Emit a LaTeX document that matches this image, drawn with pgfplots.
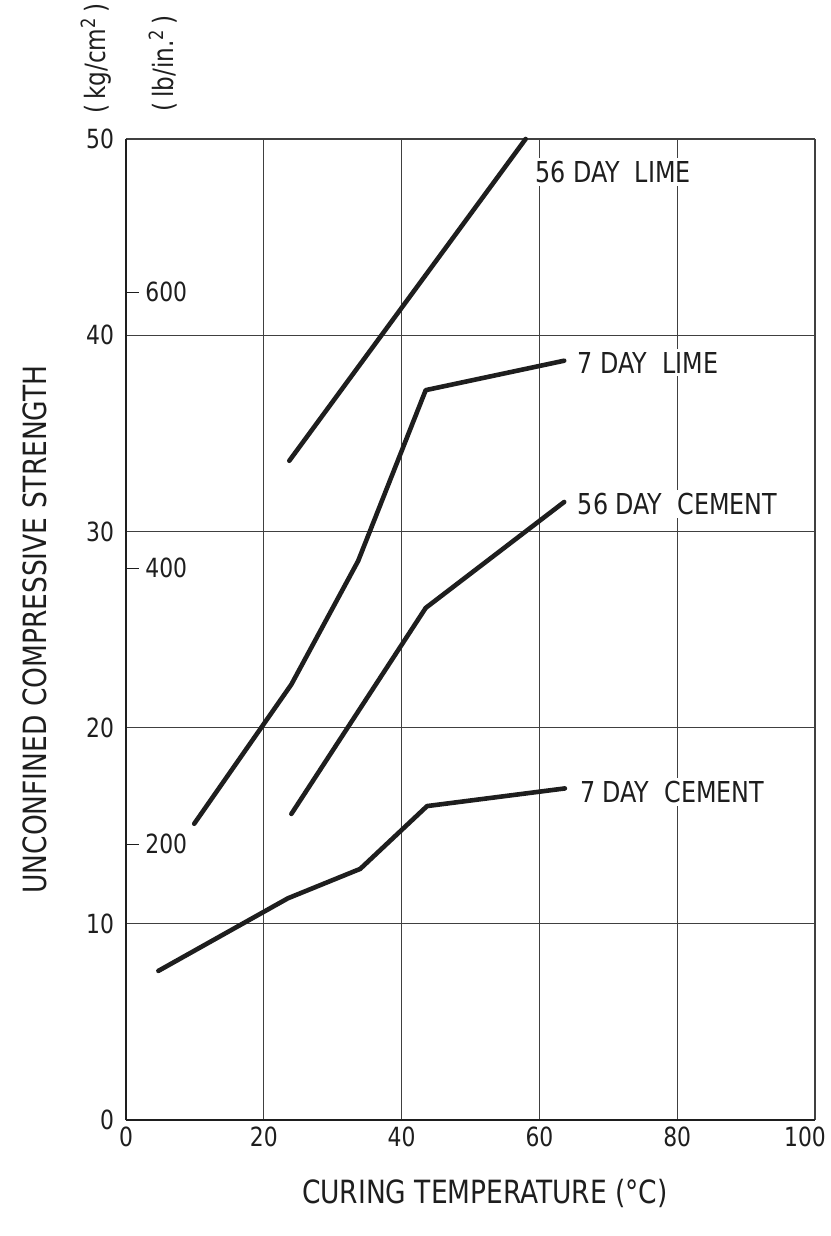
\documentclass[border=0pt]{standalone}
\usepackage{fontspec}
\setmainfont{DejaVu Sans Condensed}[FakeStretch=0.92]
\usepackage{pgfplots}
\pgfplotsset{compat=1.18}
\definecolor{ink}{HTML}{1E1E1E}

\begin{document}
\begin{tikzpicture}
\begin{axis}[
  at={(0,0)}, anchor=south west,
  scale only axis, width=344.5pt, height=490.5pt,
  xmin=0, xmax=100, ymin=0, ymax=50,
  xtick={0,20,...,100}, ytick={0,10,...,50},
  xticklabels={0,20,40,60,80,{\hspace*{-10pt}100}},
  grid=major, major grid style={line width=0.55pt, draw=ink!85},
  axis x line*=bottom, axis y line*=left,
  axis line style={-, line width=1.4pt, draw=ink},
  major tick length=0pt,
  tick label style={font=\fontsize{13.2}{15}\selectfont, text=ink},
  /pgf/number format/assume math mode=true,
  yticklabel style={xshift=-2.5pt},
  % lb/in.^2 scale: 1 kg/cm^2 = 14.223 lb/in.^2
  extra y ticks={14.062,28.123,42.185},
  extra y tick labels={200,400,600},
  extra y tick style={grid=none, major tick length=6.5pt, tick align=inside,
    tick style={line width=0.6pt, draw=ink},
    yticklabel style={anchor=west, xshift=12pt, inner sep=0pt}},
  xlabel={CURING TEMPERATURE (°C)},
  xlabel style={at={([yshift=-36.5pt]axis description cs:0.521,0)}, anchor=center,
    font=\fontsize{16}{18}\selectfont, text=ink},
  ylabel={UNCONFINED COMPRESSIVE STRENGTH},
  ylabel style={at={([xshift=-45.5pt]axis description cs:0,0.5)}, anchor=center,
    font=\fontsize{16}{18}\selectfont, text=ink},
  clip=false,
  curve/.style={line width=2.3pt, draw=ink, line cap=round, line join=round, mark=none},
]
% 7 day cement
\addplot[curve] coordinates {(4.7,7.6) (23.5,11.3) (34,12.8) (43.7,16.0) (63.7,16.9)};
% 56 day cement
\addplot[curve] coordinates {(24,15.6) (43.5,26.1) (63.6,31.5)};
% 7 day lime
\addplot[curve] coordinates {(9.9,15.1) (24,22.2) (33.7,28.5) (43.5,37.2) (63.6,38.7)};
% 56 day lime
\addplot[curve] coordinates {(23.7,33.6) (58,50)};

\tikzset{curvelabel/.style={anchor=west, fill=white, inner sep=1.5pt,
  font=\fontsize{14.4}{16}\selectfont, text=ink}}
\node[curvelabel] at (axis cs:58.9,48.3) {56 DAY\ \ LIME};
\node[curvelabel] at (axis cs:65.1,38.6) {7 DAY\ \ LIME};
\node[curvelabel] at (axis cs:65.1,31.4) {56 DAY\ \ CEMENT};
\node[curvelabel] at (axis cs:65.4,16.7) {7 DAY\ \ CEMENT};

% unit captions above the left axis
\node[rotate=90, anchor=west, inner sep=0pt, font=\fontsize{14}{16}\selectfont, text=ink]
  at ([xshift=-15pt, yshift=12.5pt]rel axis cs:0,1) {(\,kg/cm\textsuperscript{2}\,)};
\node[rotate=90, anchor=west, inner sep=0pt, font=\fontsize{14}{16}\selectfont, text=ink]
  at ([xshift=18.5pt, yshift=13.5pt]rel axis cs:0,1) {(\,lb/in.\textsuperscript{2}\,)};
\end{axis}
\pgfresetboundingbox
\useasboundingbox (-63pt,-58pt) rectangle (352pt,560pt);
\end{tikzpicture}
\end{document}
